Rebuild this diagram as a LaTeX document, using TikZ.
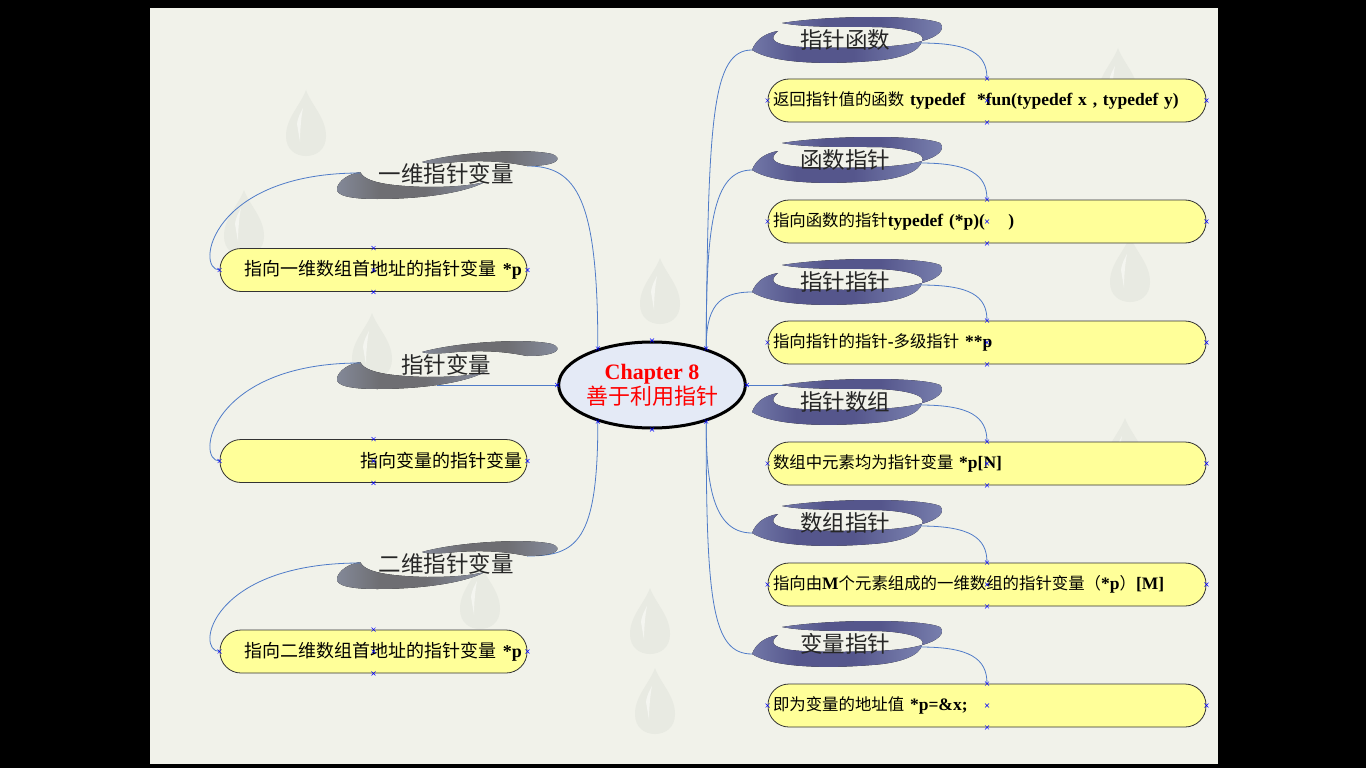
\documentclass[tikz,border=0pt]{standalone}
\usepackage{fontspec}
\setmainfont{Liberation Serif}
\newfontfamily\cjk{Noto Sans CJK SC}
\usetikzlibrary{shapes.geometric}

\definecolor{slidebg}{HTML}{F1F2EA}
\definecolor{dropgray}{HTML}{E8EAE2}
\definecolor{boxfill}{HTML}{FFFF99}
\definecolor{linkblue}{HTML}{4F7BC8}
\definecolor{ribA}{HTML}{A9B8DC}
\definecolor{ribB}{HTML}{55568C}
\definecolor{ribC}{HTML}{6E6E72}
\definecolor{coreblue}{HTML}{E4EAF6}

\pgfdeclarehorizontalshading{ribshadeR}{100bp}{color(0bp)=(ribA); color(38bp)=(ribB); color(55bp)=(ribB); color(100bp)=(ribA)}
\pgfdeclarehorizontalshading{ribshadeL}{100bp}{color(0bp)=(ribA); color(40bp)=(ribC); color(55bp)=(ribC); color(100bp)=(ribA)}

\newcommand{\tb}[1]{{\bfseries #1}}

\begin{document}
\begin{tikzpicture}[x=1pt, y=-1pt]
    \tikzset{
        core/.style  = {shape=ellipse, draw, line width=3pt, fill=coreblue, minimum width=182pt,
                        minimum height=86pt, inner sep=0pt, align=center, text=red},
        leaf/.style  = {draw=black!80, line width=0.8pt, fill=boxfill, rounded corners=21pt,
                        minimum height=43pt, inner sep=5pt},
        leafR/.style = {leaf, text width=428pt, align=left, font=\fontsize{17.5}{20}\selectfont},
        leafL/.style = {leaf, text width=297pt, align=right, font=\fontsize{18}{20}\selectfont},
        title/.style = {font=\cjk\fontsize{22.5}{26}\selectfont, text=black!85, inner sep=0pt},
        link/.style  = {draw=linkblue, line width=0.8pt},
        raindrop/.style = {fill=dropgray},
        pics/hx/.style = {code={
            \draw[blue, line width=0.5pt] (-2,-2) -- (2,2) (-2,2) -- (2,-2);}},
        pics/tear/.style = {code={
            \fill[raindrop] (0,-32) .. controls (6,-16) and (20,-4) .. (20,14)
                .. controls (20,28) and (10,34) .. (0,34)
                .. controls (-10,34) and (-20,28) .. (-20,14)
                .. controls (-20,-4) and (-6,-16) .. (0,-32) -- cycle;
            \fill[white!50!dropgray] (-9,2) .. controls (-8,-6) and (-4,-12) .. (-3,-14)
                .. controls (-5,-4) and (-6,10) .. (-6,20) -- cycle;}},
        pics/ribright/.style = {code={
            \fill[shading=ribshadeR]
                (0,33) .. controls (4,22) and (14,16) .. (26,14)
                .. controls (16,22) and (20,28) .. (50,30)
                .. controls (110,32) and (150,30) .. (170,24)
                .. controls (168,34) and (150,42) .. (120,44)
                .. controls (70,48) and (20,46) .. (0,33) -- cycle;
            \fill[shading=ribshadeR]
                (30,6) .. controls (80,-2) and (170,-2) .. (188,6)
                .. controls (194,12) and (186,20) .. (170,24)
                .. controls (176,16) and (150,10) .. (120,10)
                .. controls (80,10) and (50,10) .. (30,6) -- cycle;
            \coordinate (-in) at (0,33);
            \coordinate (-out) at (168,26);}},
        pics/ribleft/.style = {code={
            \fill[shading=ribshadeL]
                (0,36) .. controls (2,28) and (12,22) .. (23,20)
                .. controls (28,30) and (50,34) .. (90,35)
                .. controls (120,35) and (135,33) .. (148,30)
                .. controls (125,42) and (80,47) .. (40,47)
                .. controls (15,47) and (-2,44) .. (0,36) -- cycle;
            \fill[shading=ribshadeL]
                (85,10) .. controls (120,0) and (190,-4) .. (215,2)
                .. controls (226,6) and (222,14) .. (190,14)
                .. controls (170,10) and (150,8) .. (120,10)
                .. controls (100,12) and (90,12) .. (85,10) -- cycle;
            \coordinate (-in) at (23,21);
            \coordinate (-out) at (190,14);}}
    }

    % slide
    \fill[black] (0,0) rectangle (1366,768);
    \useasboundingbox (0,0) rectangle (1366,768);
    \fill[slidebg] (150,8) rectangle (1218,764);

    % drops
    \pic at (306,122) {tear};
    \pic at (244,222) {tear};
    \pic at (660,290) {tear};
    \pic at (372,345) {tear};
    \pic at (655,700) {tear};
    \pic at (480,595) {tear};
    \pic at (1118,80) {tear};
    \pic at (1130,268) {tear};
    \pic at (1125,450) {tear};
    \pic at (650,620) {tear};

    % centre
    \node[core] (e) at (652,385)
        {{\bfseries\fontsize{22}{26}\selectfont Chapter 8}\\[1pt]{\cjk\fontsize{22}{26}\selectfont 善于利用指针}};

    % leaves, right
    \node[leafR] (r1) at (987,100.5) {{\cjk\fontsize{16.4}{20}\selectfont 返回指针值的函数} \tb{typedef\ \ *fun(typedef x , typedef y)}};
    \node[leafR] (r2) at (987,221.5) {{\cjk\fontsize{16.4}{20}\selectfont 指向函数的指针}\tb{typedef (*p)(\ \ \ \ )}};
    \node[leafR] (r3) at (987,342.5) {{\cjk\fontsize{16.4}{20}\selectfont 指向指针的指针}\tb{-}{\cjk\fontsize{16.4}{20}\selectfont 多级指针} \tb{**p}};
    \node[leafR] (r4) at (987,463.5) {{\cjk\fontsize{16.4}{20}\selectfont 数组中元素均为指针变量} \tb{*p[N]}};
    \node[leafR] (r5) at (987,584.5) {{\cjk\fontsize{16.4}{20}\selectfont 指向由}\tb{M}{\cjk\fontsize{16.4}{20}\selectfont 个元素组成的一维数组的指针变量（}\tb{*p}{\cjk\fontsize{16.4}{20}\selectfont ）}\tb{[M]}};
    \node[leafR] (r6) at (987,705.5) {{\cjk\fontsize{16.4}{20}\selectfont 即为变量的地址值} \tb{*p=\&x;}};

    % leaves, left
    \node[leafL] (b1) at (373.5,270) {{\cjk 指向一维数组首地址的指针变量} \tb{*p}};
    \node[leafL] (b2) at (373.5,461) {{\cjk 指向变量的指针变量}};
    \node[leafL] (b3) at (373.5,651.5) {{\cjk 指向二维数组首地址的指针变量} \tb{*p}};

    % connectors
    \draw[link] (e.34) .. controls +(2,-230) and +(-40,0) .. (752,50) coordinate (f1a);
    \draw[link] (e.34) .. controls +(0,-120) and +(-40,0) .. (752,170) coordinate (f2a);
    \draw[link] (e.34) .. controls +(0,-40) and +(-35,0) .. (752,292) coordinate (f3a);
    \draw[link] (e.east) -- (852,385) coordinate (f4a);
    \draw[link] (e.326) .. controls +(0,60) and +(-40,0) .. (752,533) coordinate (f5a);
    \draw[link] (e.326) .. controls +(0,180) and +(-40,0) .. (752,654) coordinate (f6a);
    \draw[link] (e.146) .. controls +(0,-150) and +(50,0) .. (527,166) coordinate (l1a);
    \draw[link] (e.west) -- (437,385) coordinate (l2a);
    \draw[link] (e.214) .. controls +(0,120) and +(50,0) .. (527,556) coordinate (l3a);

    % ribbons
    \pic (f1) at (752,17)  {ribright};
    \pic (f2) at (752,137) {ribright};
    \pic (f3) at (752,259) {ribright};
    \pic (f4) at (752,379) {ribright};
    \pic (f5) at (752,500) {ribright};
    \pic (f6) at (752,621) {ribright};
    \pic (l1) at (337,152) {ribleft};
    \pic (l2) at (337,342) {ribleft};
    \pic (l3) at (337,542) {ribleft};

    \draw[link] (f1-out) .. controls +(50,0) and +(0,-25) .. (r1.north);
    \draw[link] (f2-out) .. controls +(50,0) and +(0,-25) .. (r2.north);
    \draw[link] (f3-out) .. controls +(50,0) and +(0,-25) .. (r3.north);
    \draw[link] (f4-out) .. controls +(50,0) and +(0,-25) .. (r4.north);
    \draw[link] (f5-out) .. controls +(50,0) and +(0,-25) .. (r5.north);
    \draw[link] (f6-out) .. controls +(50,0) and +(0,-25) .. (r6.north);
    \draw[link] (l1-in) .. controls +(-150,0) and +(-25,0) .. (b1.west);
    \draw[link] (l2-in) .. controls +(-150,0) and +(-25,0) .. (b2.west);
    \draw[link] (l3-in) .. controls +(-150,0) and +(-25,0) .. (b3.west);

    % titles
    \node[title] (t1) at (845,40)  {指针函数};
    \node[title] (t2) at (845,160) {函数指针};
    \node[title] (t3) at (845,282) {指针指针};
    \node[title] (t4) at (845,402) {指针数组};
    \node[title] (t5) at (845,523) {数组指针};
    \node[title] (t6) at (845,644) {变量指针};
    \node[title] (s1) at (446,174) {一维指针变量};
    \node[title] (s2) at (446,365) {指针变量};
    \node[title] (s3) at (446,564) {二维指针变量};

    % handles
    \foreach \b in {r1,r2,r3,r4,r5,r6,b1,b2,b3}
        \foreach \a in {north,south,east,west,center}
            \pic at (\b.\a) {hx};
    \foreach \a in {north,south,east,west,34,146,214,326}
        \pic at (e.\a) {hx};
\end{tikzpicture}
\end{document}
